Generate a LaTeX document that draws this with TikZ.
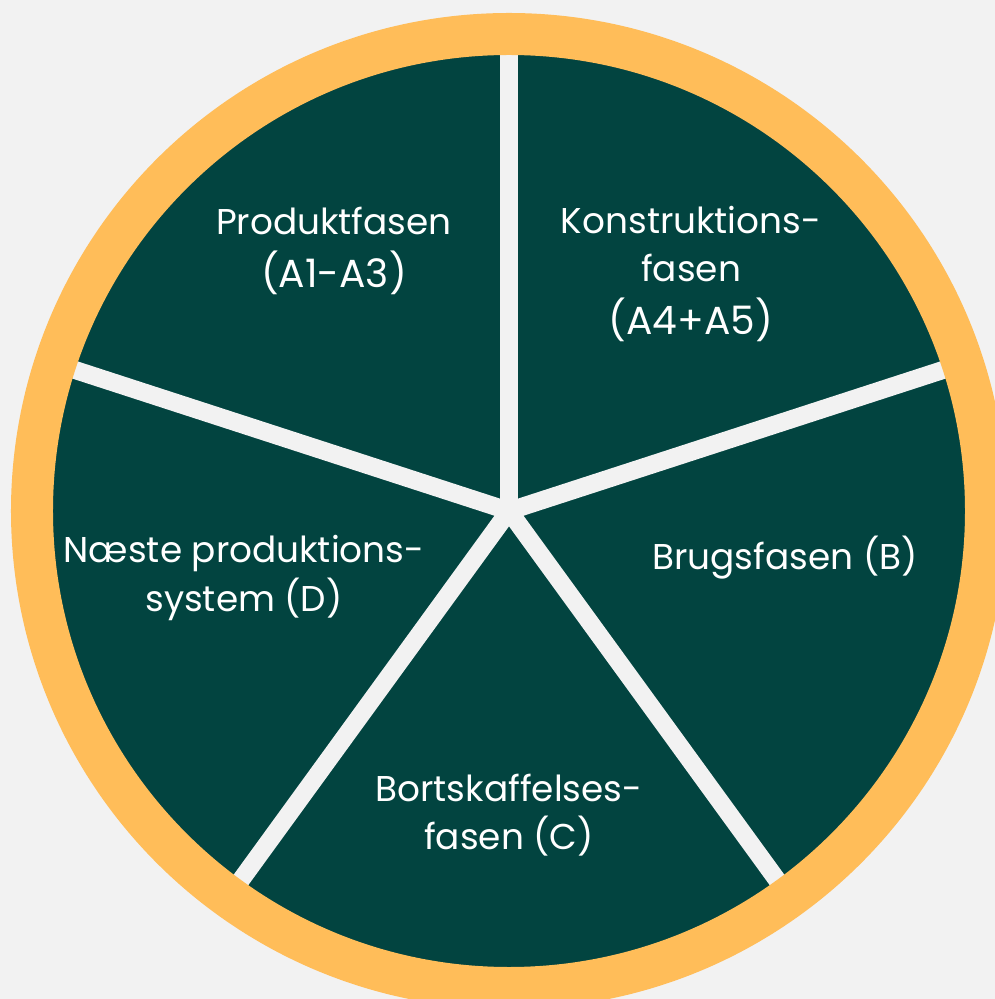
\documentclass[tikz,border=0pt]{standalone}
\usepackage{fontspec}
\setmainfont{Poppins}
\usetikzlibrary{positioning}
\definecolor{bgcol}{HTML}{F2F2F2}
\definecolor{phase}{HTML}{024440}
\definecolor{rim}{HTML}{FFBD59}
\tikzstyle{spoke} = [draw=bgcol, line width=0.36cm]
\tikzstyle{fase}  = [text=white, align=center, font=\fontsize{20.4}{27.5}\selectfont]
\newcommand{\code}[1]{{\fontsize{22.3}{27.5}\selectfont #1}}

\begin{document}
\begin{tikzpicture}

    \clip (-10.18,-9.76) rectangle (9.72,10.22);
    \fill[bgcol] (-10.18,-9.76) rectangle (9.72,10.22);

    \coordinate (mid) at (0,0);
    \fill[phase] (mid) circle (9.13);
    \foreach \a in {90,18,-54,-126,162}
        \draw[spoke] (mid) -- (\a:9.3);
    \fill[bgcol] (mid) circle (0.19);
    \draw[rim, line width=0.84cm] (mid) circle (9.54);

    \node[fase] (A13)  at (-3.5,5.2)   {Produktfasen\\[3pt]\code{(A1-A3)}};
    \node[fase] (A45)  at (3.64,4.74)  {Konstruktions-\\fasen\\[3pt]\code{(A4+A5)}};
    \node[fase] (B)    at (5.52,-0.94) {Brugsfasen (B)};
    \node[fase] (C)    at (0,-6.08)    {Bortskaffelses-\\fasen (C)};
    \node[fase] (D)    at (-5.3,-1.34) {Næste produktions-\\system (D)};

\end{tikzpicture}
\end{document}
